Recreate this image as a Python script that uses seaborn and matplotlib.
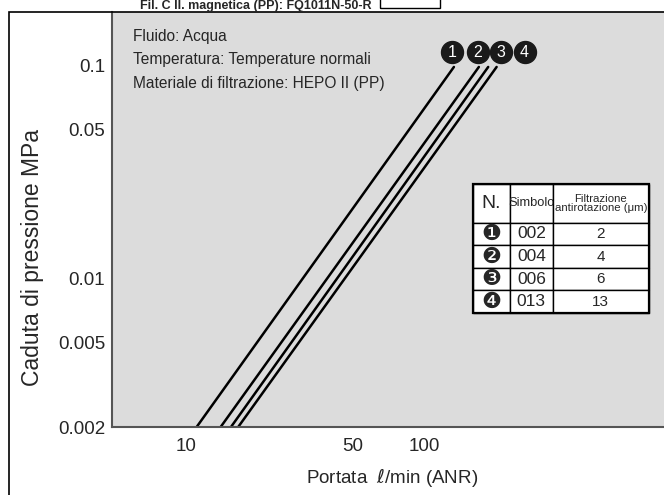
import matplotlib
matplotlib.use("Agg")
import matplotlib.pyplot as plt
from matplotlib.patches import Rectangle
import seaborn as sns
import pandas as pd

# values
series = ["1", "2", "3", "4"]
flow_lo = [11.09, 13.99, 15.46, 16.58]
flow_hi = [133.7, 170.2, 186.3, 202.1]
dp_lo = [0.002, 0.002, 0.002, 0.002]
dp_hi = [0.098, 0.098, 0.098, 0.098]
label_x = [131.0, 168.0, 211.0, 265.0]
label_y = [0.115, 0.115, 0.115, 0.115]

y_ticks = [0.002, 0.005, 0.01, 0.05, 0.1]
y_ticklabels = ["0.002", "0.005", "0.01", "0.05", "0.1"]
x_ticks = [10, 50, 100]
x_ticklabels = ["10", "50", "100"]

table_header = ["N.", "Simbolo", "Filtrazione\nantirotazione (\u03bcm)"]
table_marks = ["\u2776", "\u2777", "\u2778", "\u2779"]
table_symbol = ["002", "004", "006", "013"]
table_filtr = ["2", "4", "6", "13"]

notes = ["Fluido: Acqua",
         "Temperatura: Temperature normali",
         "Materiale di filtrazione: HEPO II (PP)"]

sns.set_style("white")
plt.rcParams["font.family"] = ["Liberation Sans", "DejaVu Sans"]

rows = []
for s, x0, x1, y0, y1 in zip(series, flow_lo, flow_hi, dp_lo, dp_hi):
    rows.append({"serie": s, "flow": x0, "dp": y0})
    rows.append({"serie": s, "flow": x1, "dp": y1})
df = pd.DataFrame(rows)

W, H = 664, 495
AX_L, AX_B, AX_W, AX_H = 112, 68, 560, 415


# pixel (from top-left of the image) -> axes fraction
def ax_x(px):
    return (px - AX_L) / AX_W


def ax_y(py):
    return (H - py - AX_B) / AX_H


fig = plt.figure(figsize=(W / 100, H / 100), dpi=100)
ax = fig.add_axes([AX_L / W, AX_B / H, AX_W / W, AX_H / H])
ax.set_facecolor("#dcdcdc")

sns.lineplot(data=df, x="flow", y="dp", hue="serie", palette=["black"] * 4,
             estimator=None, legend=False, linewidth=1.8, ax=ax)

ax.set_xscale("log")
ax.set_yscale("log")
ax.set_xlim(4.89, 1103)
ax.set_ylim(0.002, 0.1775)
ax.set_xticks(x_ticks)
ax.set_xticklabels(x_ticklabels)
ax.set_yticks(y_ticks)
ax.set_yticklabels(y_ticklabels)
ax.minorticks_off()
ax.tick_params(axis="both", direction="in", length=6, width=1.3, color="#555555",
               labelsize=13.5, pad=5)
ax.tick_params(axis="x", pad=8)
for side in ["top", "right"]:
    ax.spines[side].set_visible(False)
for side in ["left", "bottom"]:
    ax.spines[side].set_color("#555555")
    ax.spines[side].set_linewidth(1.5)

ax.set_ylabel("Caduta di pressione MPa", fontsize=16.5)
ax.yaxis.set_label_coords(ax_x(44), ax_y(258))
ax.set_xlabel("Portata  $\\ell$/min (ANR)", fontsize=13.5, labelpad=8)

# numbered markers at the top of each line
ax.scatter(label_x, label_y, s=250, color="#1a1a1a", zorder=5, clip_on=False)
for s, x, y in zip(series, label_x, label_y):
    ax.text(x, y, s, color="white", fontsize=11.5, ha="center", va="center", zorder=6)

for i, t in enumerate(notes):
    ax.text(ax_x(133), ax_y(36.7) - i * 0.056, t, transform=ax.transAxes,
            fontsize=11.2, ha="left", va="center")

# table
cell_text = [[m, s, f] for m, s, f in zip(table_marks, table_symbol, table_filtr)]
tbox = [ax_x(472.7), ax_y(313), (649 - 472.7) / AX_W, (313 - 184) / AX_H]
tab = ax.table(cellText=cell_text, colLabels=table_header,
               colWidths=[37.3, 42.7, 96.3], cellLoc="center", bbox=tbox)
tab.auto_set_font_size(False)
for (r, c), cell in tab.get_celld().items():
    cell.set_facecolor("white")
    cell.set_edgecolor("black")
    cell.set_linewidth(1.0)
    cell.set_height(38.7 if r == 0 else 22.6)
    txt = cell.get_text()
    txt.set_fontsize(11.5)
    if r == 0 and c == 0:
        txt.set_fontsize(14)
    if r == 0 and c == 1:
        txt.set_fontsize(9.3)
    if r == 0 and c == 2:
        txt.set_fontsize(8.2)
        txt.set_linespacing(0.95)
    if r > 0 and c == 0:
        txt.set_family("DejaVu Sans")
        txt.set_fontsize(16)
    if r > 0 and c == 1:
        txt.set_fontsize(12.5)
        cell._loc = "left"
    if r > 0 and c == 2:
        txt.set_fontsize(11)
tab.set_zorder(7)
ax.add_patch(Rectangle((tbox[0], tbox[1]), tbox[2], tbox[3],
                       transform=ax.transAxes, fill=False, lw=1.6,
                       edgecolor="black", zorder=8))

# outer frame and heading
fig.add_artist(Rectangle((8.5 / W, -0.1), 2.0, 0.1 + (H - 11.5) / H,
                         transform=fig.transFigure, fill=False, lw=1.2,
                         edgecolor="black"))
fig.text(372 / W, 1 - 0.5 / H, "Fil. C II. magnetica (PP): FQ1011N-50-R",
         fontsize=9, fontweight="bold", ha="right", va="top")
fig.add_artist(Rectangle((380 / W, 1 - 8 / H), 60 / W, 0.1,
                         transform=fig.transFigure, fill=False, lw=1.0,
                         edgecolor="black"))

fig.savefig("out.png", dpi=100)
